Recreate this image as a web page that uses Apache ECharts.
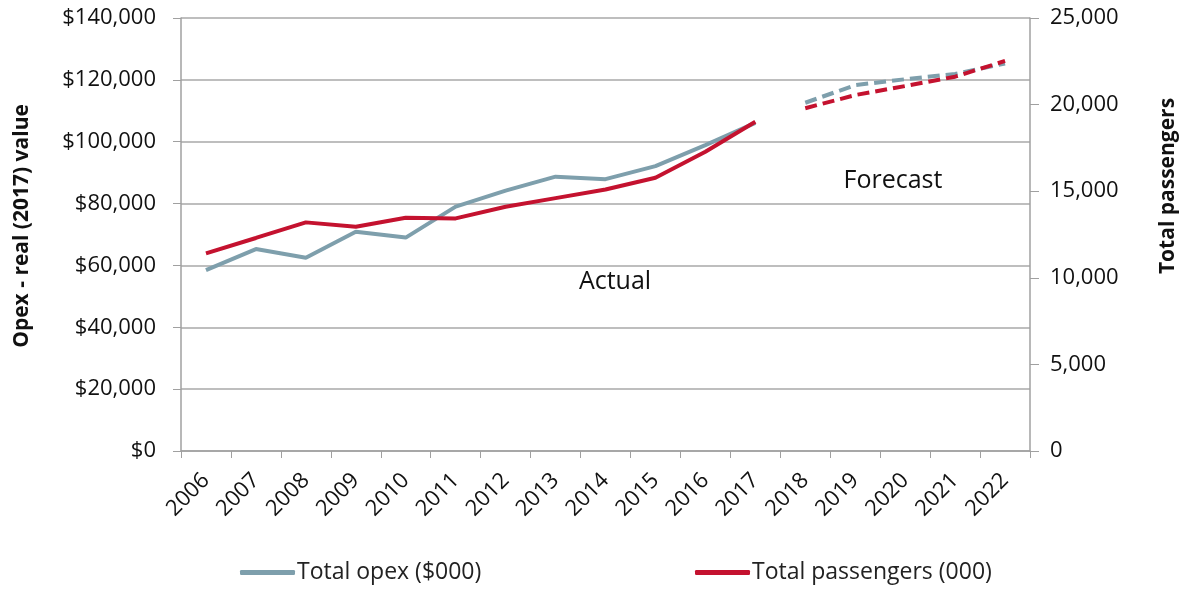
<!DOCTYPE html>
<html>
<head>
<meta charset="utf-8">
<script src="https://cdn.jsdelivr.net/npm/echarts@6/dist/echarts.min.js"></script>
<style>
  html, body { margin: 0; padding: 0; background: #fff; }
  #main { width: 1184px; height: 591px; }
</style>
</head>
<body>
<div id="main"></div>
<script>
var chartDom = document.getElementById('main');
var myChart = echarts.init(chartDom);
var option;

const years = ['2006', '2007', '2008', '2009', '2010', '2011', '2012', '2013', '2014',
  '2015', '2016', '2017', '2018', '2019', '2020', '2021', '2022'];

// actual values 2006-2017, forecast 2018-2022
const opexActual = [58500, 65300, 62500, 70900, 69000, 79000, 84200, 88700, 87900, 92100, 98900, 106100];
const opexForecast = [112600, 118300, 120200, 121900, 125300];
const paxActual = [11410, 12300, 13200, 12950, 13470, 13430, 14100, 14600, 15100, 15780, 17280, 19010];
const paxForecast = [19790, 20550, 21070, 21610, 22520];

const blank = years.slice(0, opexActual.length).map(() => null);

const grey = '#7e9fac';
const red = '#c4122f';
const font = "'Open Sans', 'Liberation Sans', sans-serif";

option = {
  animation: false,
  textStyle: { fontFamily: font },
  grid: { left: 181, right: 154, top: 18, bottom: 140 },
  legend: [
    {
      left: 240, top: 561, padding: 0,
      data: ['Total opex ($000)'],
      icon: 'roundRect',
      itemWidth: 55, itemHeight: 5,
      textStyle: { fontSize: 23, color: '#222', fontFamily: font, padding: [0, 0, 0, -3] }
    },
    {
      left: 695, top: 561, padding: 0,
      data: ['Total passengers (000)'],
      icon: 'roundRect',
      itemWidth: 55, itemHeight: 5,
      textStyle: { fontSize: 23, color: '#222', fontFamily: font, padding: [0, 0, 0, -3] }
    }
  ],
  xAxis: {
    type: 'category',
    data: years,
    boundaryGap: true,
    axisLine: { lineStyle: { color: '#a0a0a0', width: 1.5 } },
    axisTick: { show: true, length: 7, lineStyle: { color: '#a0a0a0' } },
    axisLabel: { rotate: 45, fontSize: 22, color: '#111', margin: 26, interval: 0, hideOverlap: false }
  },
  yAxis: [
    {
      type: 'value',
      min: 0, max: 140000, interval: 20000,
      axisLine: { show: true, lineStyle: { color: '#a0a0a0', width: 1.5 } },
      axisTick: { show: true, length: 8, lineStyle: { color: '#a0a0a0' } },
      splitLine: { lineStyle: { color: '#a8a8a8', width: 1.5 } },
      axisLabel: {
        fontSize: 22, color: '#111', margin: 25,
        formatter: v => '$' + v.toLocaleString('en-US')
      }
    },
    {
      type: 'value',
      min: 0, max: 25000, interval: 5000,
      axisLine: { show: true, lineStyle: { color: '#a0a0a0', width: 1.5 } },
      axisTick: { show: true, length: 9, lineStyle: { color: '#a0a0a0' } },
      splitLine: { show: false },
      axisLabel: {
        fontSize: 22, color: '#111', margin: 20,
        formatter: v => v.toLocaleString('en-US')
      }
    }
  ],
  graphic: [
    {
      type: 'text', rotation: Math.PI / 2,
      x: 22, y: 226,
      style: { text: 'Opex - real (2017) value', font: 'bold 21px ' + font, fill: '#111', align: 'center', verticalAlign: 'middle' }
    },
    {
      type: 'text', rotation: Math.PI / 2,
      x: 1168, y: 186,
      style: { text: 'Total passengers', font: 'bold 21px ' + font, fill: '#111', align: 'center', verticalAlign: 'middle' }
    },
    {
      type: 'text', x: 615, y: 282,
      style: { text: 'Actual', font: '25px ' + font, fill: '#111', align: 'center', verticalAlign: 'middle' }
    },
    {
      type: 'text', x: 893, y: 181,
      style: { text: 'Forecast', font: '25px ' + font, fill: '#111', align: 'center', verticalAlign: 'middle' }
    }
  ],
  series: [
    {
      name: 'Total opex ($000)',
      type: 'line',
      yAxisIndex: 0,
      data: opexActual,
      symbol: 'none',
      lineStyle: { color: grey, width: 4 },
      itemStyle: { color: grey }
    },
    {
      name: 'Total passengers (000)',
      type: 'line',
      yAxisIndex: 1,
      data: paxActual,
      symbol: 'none',
      lineStyle: { color: red, width: 4 },
      itemStyle: { color: red }
    },
    {
      name: 'Opex forecast',
      type: 'line',
      yAxisIndex: 0,
      data: blank.concat(opexForecast),
      symbol: 'none',
      lineStyle: { color: grey, width: 4, type: [12, 6] },
      itemStyle: { color: grey }
    },
    {
      name: 'Passengers forecast',
      type: 'line',
      yAxisIndex: 1,
      data: blank.concat(paxForecast),
      symbol: 'none',
      lineStyle: { color: red, width: 4, type: [12, 6] },
      itemStyle: { color: red }
    }
  ]
};

option && myChart.setOption(option);
</script>
</body>
</html>
